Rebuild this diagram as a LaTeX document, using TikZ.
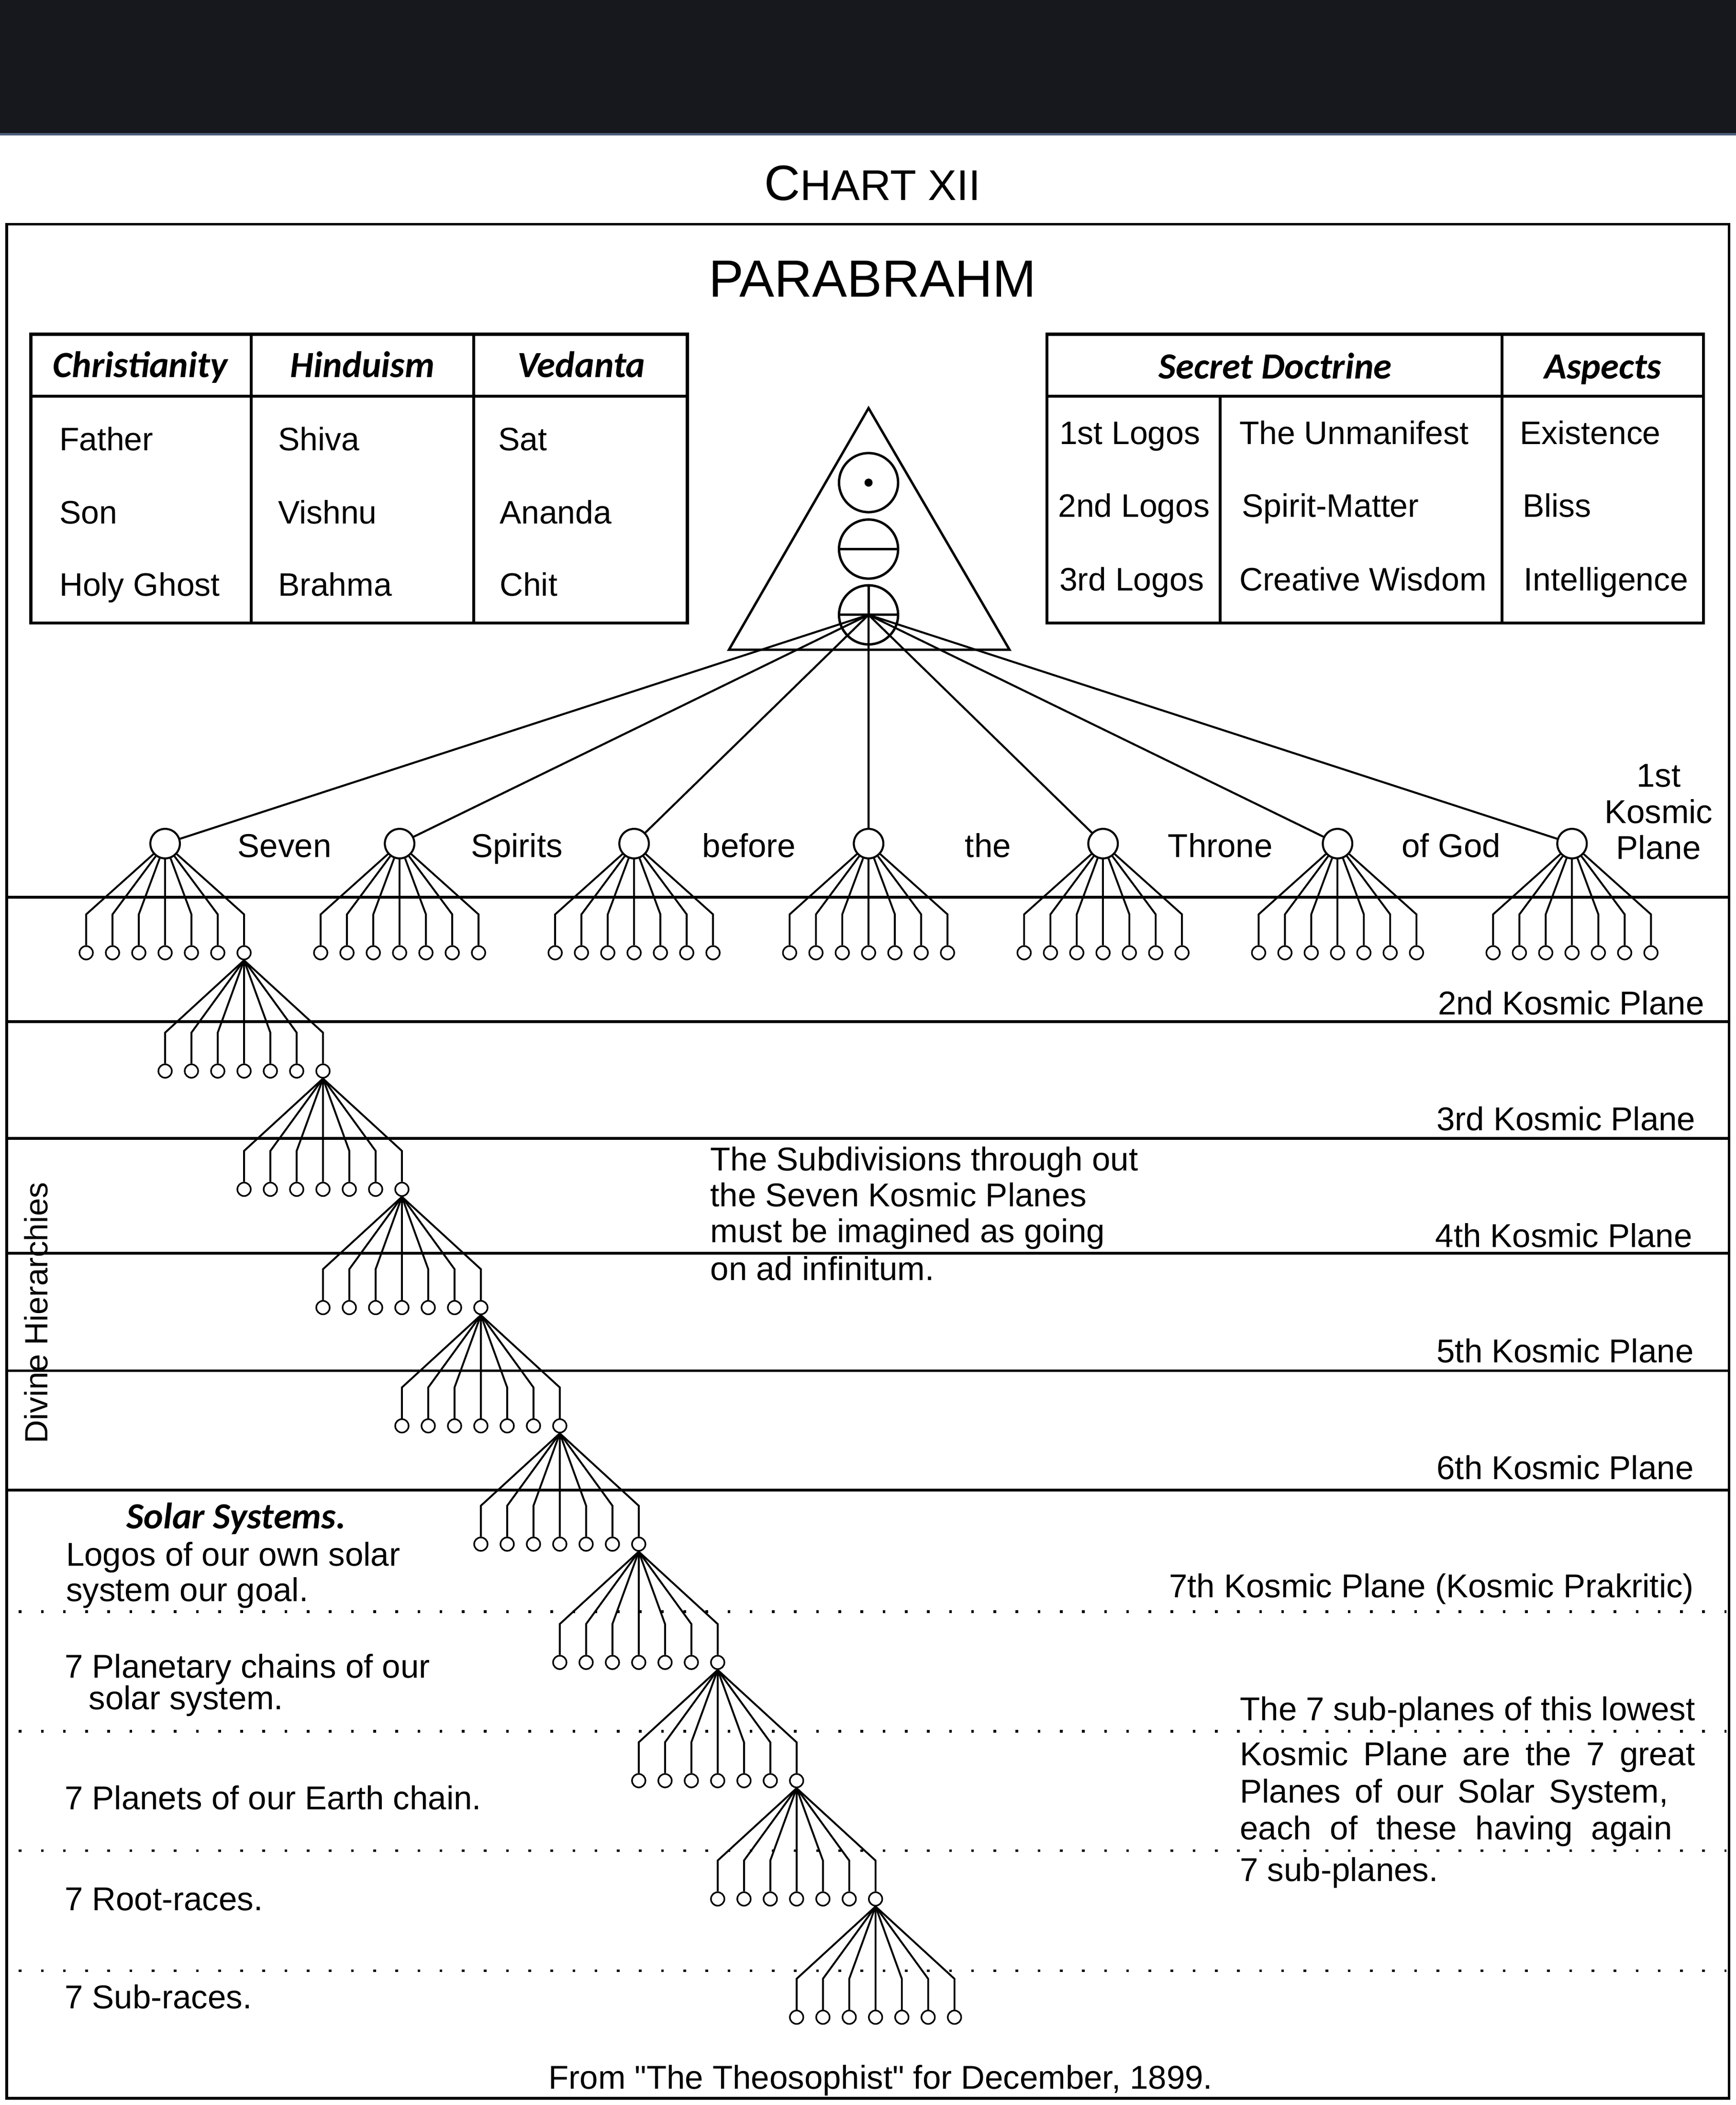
\documentclass[tikz,border=0pt]{standalone}
\usepackage{fontspec}
\setmainfont{Liberation Sans}[Ligatures=TeXOff]
\newfontfamily\headfont{Carlito}
\definecolor{bandcol}{RGB}{23,23,30}
\definecolor{bandedge}{RGB}{76,93,122}
\tikzset{
  txt/.style = {inner sep=0pt, font=\fontsize{24.6}{30}\selectfont},
  cell/.style = {txt, font=\fontsize{24.2}{30}\selectfont},
  head/.style = {inner sep=0pt, font=\headfont\bfseries\itshape\fontsize{27.5}{30}\selectfont},
  spirit/.style = {circle, draw=black, minimum size=22pt, inner sep=0pt, line width=1.5pt},
  leaf/.style = {circle, draw=black, minimum size=10pt, inner sep=0pt, line width=1.2pt},
  orb/.style = {circle, draw=black, minimum size=44pt, inner sep=0pt, line width=1.8pt},
  ray/.style = {line width=1.5pt},
  branch/.style = {line width=1.4pt},
  plane/.style = {line width=2pt},
  subplane/.style = {line width=2pt, dash pattern=on 2pt off 14.5pt},
  tblline/.style = {line width=2.2pt},
}

\begin{document}
\begin{tikzpicture}[x=1pt, y=-1pt]
  \useasboundingbox (0,0) rectangle (1293,1568);
  \fill[bandcol] (0,0) rectangle (1293,99);
  \draw[bandedge, line width=2pt] (0,100) -- (1293,100);

  \node[inner sep=0pt, anchor=base] (chart) at (650,149)
    {\fontsize{37}{40}\selectfont C\fontsize{32}{40}\selectfont HART XII};
  \draw[line width=2pt] (5,167) rectangle (1288,1563);
  \node[inner sep=0pt, anchor=base, font=\fontsize{39}{44}\selectfont] (para) at (650,221) {PARABRAHM};

  \draw[tblline] (23,249) rectangle (512,464);
  \draw[tblline] (23,295) -- (512,295) (187,249) -- (187,464) (353,249) -- (353,464);
  \node[head, anchor=base] (chr) at (104.5,281) {Christianity};
  \node[head, anchor=base] (hin) at (270,281) {Hinduism};
  \node[head, anchor=base] (ved) at (433,281) {Vedanta};
  \node[cell, anchor=base west] (father) at (44,335.5) {Father};
  \node[cell, anchor=base west] (son) at (44,390) {Son};
  \node[cell, anchor=base west] (ghost) at (44,444) {Holy Ghost};
  \node[cell, anchor=base west] (shiva) at (207,335.5) {Shiva};
  \node[cell, anchor=base west] (vishnu) at (207,390) {Vishnu};
  \node[cell, anchor=base west] (brahma) at (207,444) {Brahma};
  \node[cell, anchor=base west] (sat) at (371,335.5) {Sat};
  \node[cell, anchor=base west] (ananda) at (372,390) {Ananda};
  \node[cell, anchor=base west] (chit) at (372,444) {Chit};

  \draw[tblline] (780,249) rectangle (1269,464);
  \draw[tblline] (780,295) -- (1269,295) (909,295) -- (909,464) (1119,249) -- (1119,464);
  \node[head, anchor=base] (sd) at (950,282) {Secret Doctrine};
  \node[head, anchor=base] (asp) at (1194,282) {Aspects};
  \node[cell, anchor=base west] (lg1) at (789,331) {1st Logos};
  \node[cell, anchor=base west] (lg2) at (788,385) {2nd Logos};
  \node[cell, anchor=base west] (lg3) at (789,440) {3rd Logos};
  \node[cell, anchor=base west] (unm) at (923,331) {The Unmanifest};
  \node[cell, anchor=base west] (spm) at (925,385) {Spirit-Matter};
  \node[cell, anchor=base west] (crw) at (923,440) {Creative Wisdom};
  \node[cell, anchor=base west] (exi) at (1132,331) {Existence};
  \node[cell, anchor=base west] (bli) at (1134,385) {Bliss};
  \node[cell, anchor=base west] (int) at (1135,440) {Intelligence};

  \coordinate (apex) at (647,304);
  \coordinate (bl) at (543,484);
  \coordinate (br) at (752,484);
  \draw[line width=1.8pt, line join=miter] (apex) -- (bl) -- (br) -- cycle;
  \node[orb] (o1) at (647,359.5) {};
  \node[orb] (o2) at (647,409) {};
  \node[orb] (o3) at (647,458) {};
  \fill (o1.center) circle (3pt);
  \draw[line width=1.8pt] (o2.west) -- (o2.east);
  \draw[line width=1.8pt] (o3.north) -- (o3.center) (o3.west) -- (o3.east);

  \draw[plane] (5,668.4) -- (1288,668.4);
  \foreach \yy in {761,848,933.5,1021,1110}
    \draw[plane] (5,\yy) -- (1288,\yy);
  \foreach \yy in {1200.5,1289.5,1378.5,1468}
    \draw[subplane] (14,\yy) -- (1286,\yy);

  \foreach \g in {1,...,7}{
    \node[spirit] (sp\g) at ({123+174.67*(\g-1)},628.4) {};
    \draw[ray] (o3.center) -- (sp\g);
    \foreach \i in {1,...,7}{
      \node[leaf] (g\g-\i) at ({123+174.67*(\g-1)+19.6*(\i-4)},709.7) {};
      \draw[branch] (sp\g) -- ([yshift=23pt]g\g-\i.north) -- (g\g-\i.north);
    }
  }

  \foreach \k/\up in {2/g1-7,3/l2-7,4/l3-7,5/l4-7,6/l5-7,7/l6-7,8/l7-7,9/l8-7,10/l9-7}{
    \foreach \i in {1,...,7}{
      \node[leaf] (l\k-\i) at ({123+58.8*(\k-1)+19.6*(\i-4)},{709.7+88.1*(\k-1)}) {};
      \draw[branch] (\up.south) -- ([yshift=23pt]l\k-\i.north) -- (l\k-\i.north);
    }
  }

  \node[txt, anchor=base] (w1) at (212,638.4) {Seven};
  \node[txt, anchor=base] (w2) at (385,638.4) {Spirits};
  \node[txt, anchor=base] (w3) at (558,638.4) {before};
  \node[txt, anchor=base] (w4) at (736,638.4) {the};
  \node[txt, anchor=base] (w5) at (909,638.4) {Throne};
  \node[txt, anchor=base] (w6) at (1081,638.4) {of God};

  \node[txt, anchor=base] (kp1a) at (1235.5,586) {1st};
  \node[txt, anchor=base] (kp1b) at (1235.5,613.4) {Kosmic};
  \node[txt, anchor=base] (kp1c) at (1235.5,640) {Plane};
  \node[txt, anchor=base west] (kp2) at (1071,756) {2nd Kosmic Plane};
  \node[txt, anchor=base west] (kp3) at (1070,842) {3rd Kosmic Plane};
  \node[txt, anchor=base west] (kp4) at (1069,929) {4th Kosmic Plane};
  \node[txt, anchor=base west] (kp5) at (1070,1015) {5th Kosmic Plane};
  \node[txt, anchor=base west] (kp6) at (1070,1102) {6th Kosmic Plane};
  \node[txt, anchor=base east] (kp7) at (1262,1190) {7th Kosmic Plane (Kosmic Prakritic)};

  \node[txt, anchor=base west] (sub1) at (529,872) {The Subdivisions through out};
  \node[txt, anchor=base west] (sub2) at (529,898.6) {the Seven Kosmic Planes};
  \node[txt, anchor=base west] (sub3) at (529,925.4) {must be imagined as going};
  \node[txt, anchor=base west] (sub4) at (529,953.7) {on ad infinitum.};

  \node[txt, rotate=90, font=\fontsize{24}{28}\selectfont] (div) at (27,978) {Divine Hierarchies};

  \node[head, anchor=base] (solar) at (176,1138.6) {Solar Systems.};
  \node[txt, anchor=base west] (sol1) at (49,1166.5) {Logos of our own solar};
  \node[txt, anchor=base west] (sol2) at (49,1192.7) {system our goal.};
  \node[txt, anchor=base west] (pch1) at (48,1250) {7 Planetary chains of our};
  \node[txt, anchor=base west] (pch2) at (66,1273.5) {solar system.};
  \node[txt, anchor=base west] (pln) at (48,1348) {7 Planets of our Earth chain.};
  \node[txt, anchor=base west] (root) at (48,1423) {7 Root-races.};
  \node[txt, anchor=base west] (subr) at (48,1496) {7 Sub-races.};

  \node[txt, anchor=base west] (low1) at (923.5,1281.7) {\makebox[339pt][s]{The 7 sub-planes of this lowest}};
  \node[txt, anchor=base west] (low2) at (923.5,1315) {\makebox[339pt][s]{Kosmic Plane are the 7 great}};
  \node[txt, anchor=base west] (low3) at (923.5,1343) {\makebox[319pt][s]{Planes of our Solar System,}};
  \node[txt, anchor=base west] (low4) at (923.5,1370.5) {\makebox[322pt][s]{each of these having again}};
  \node[txt, anchor=base west] (low5) at (923.5,1401.3) {7 sub-planes.};

  \node[txt, anchor=base] (src) at (656,1556) {From "The Theosophist" for December, 1899.};
\end{tikzpicture}
\end{document}
